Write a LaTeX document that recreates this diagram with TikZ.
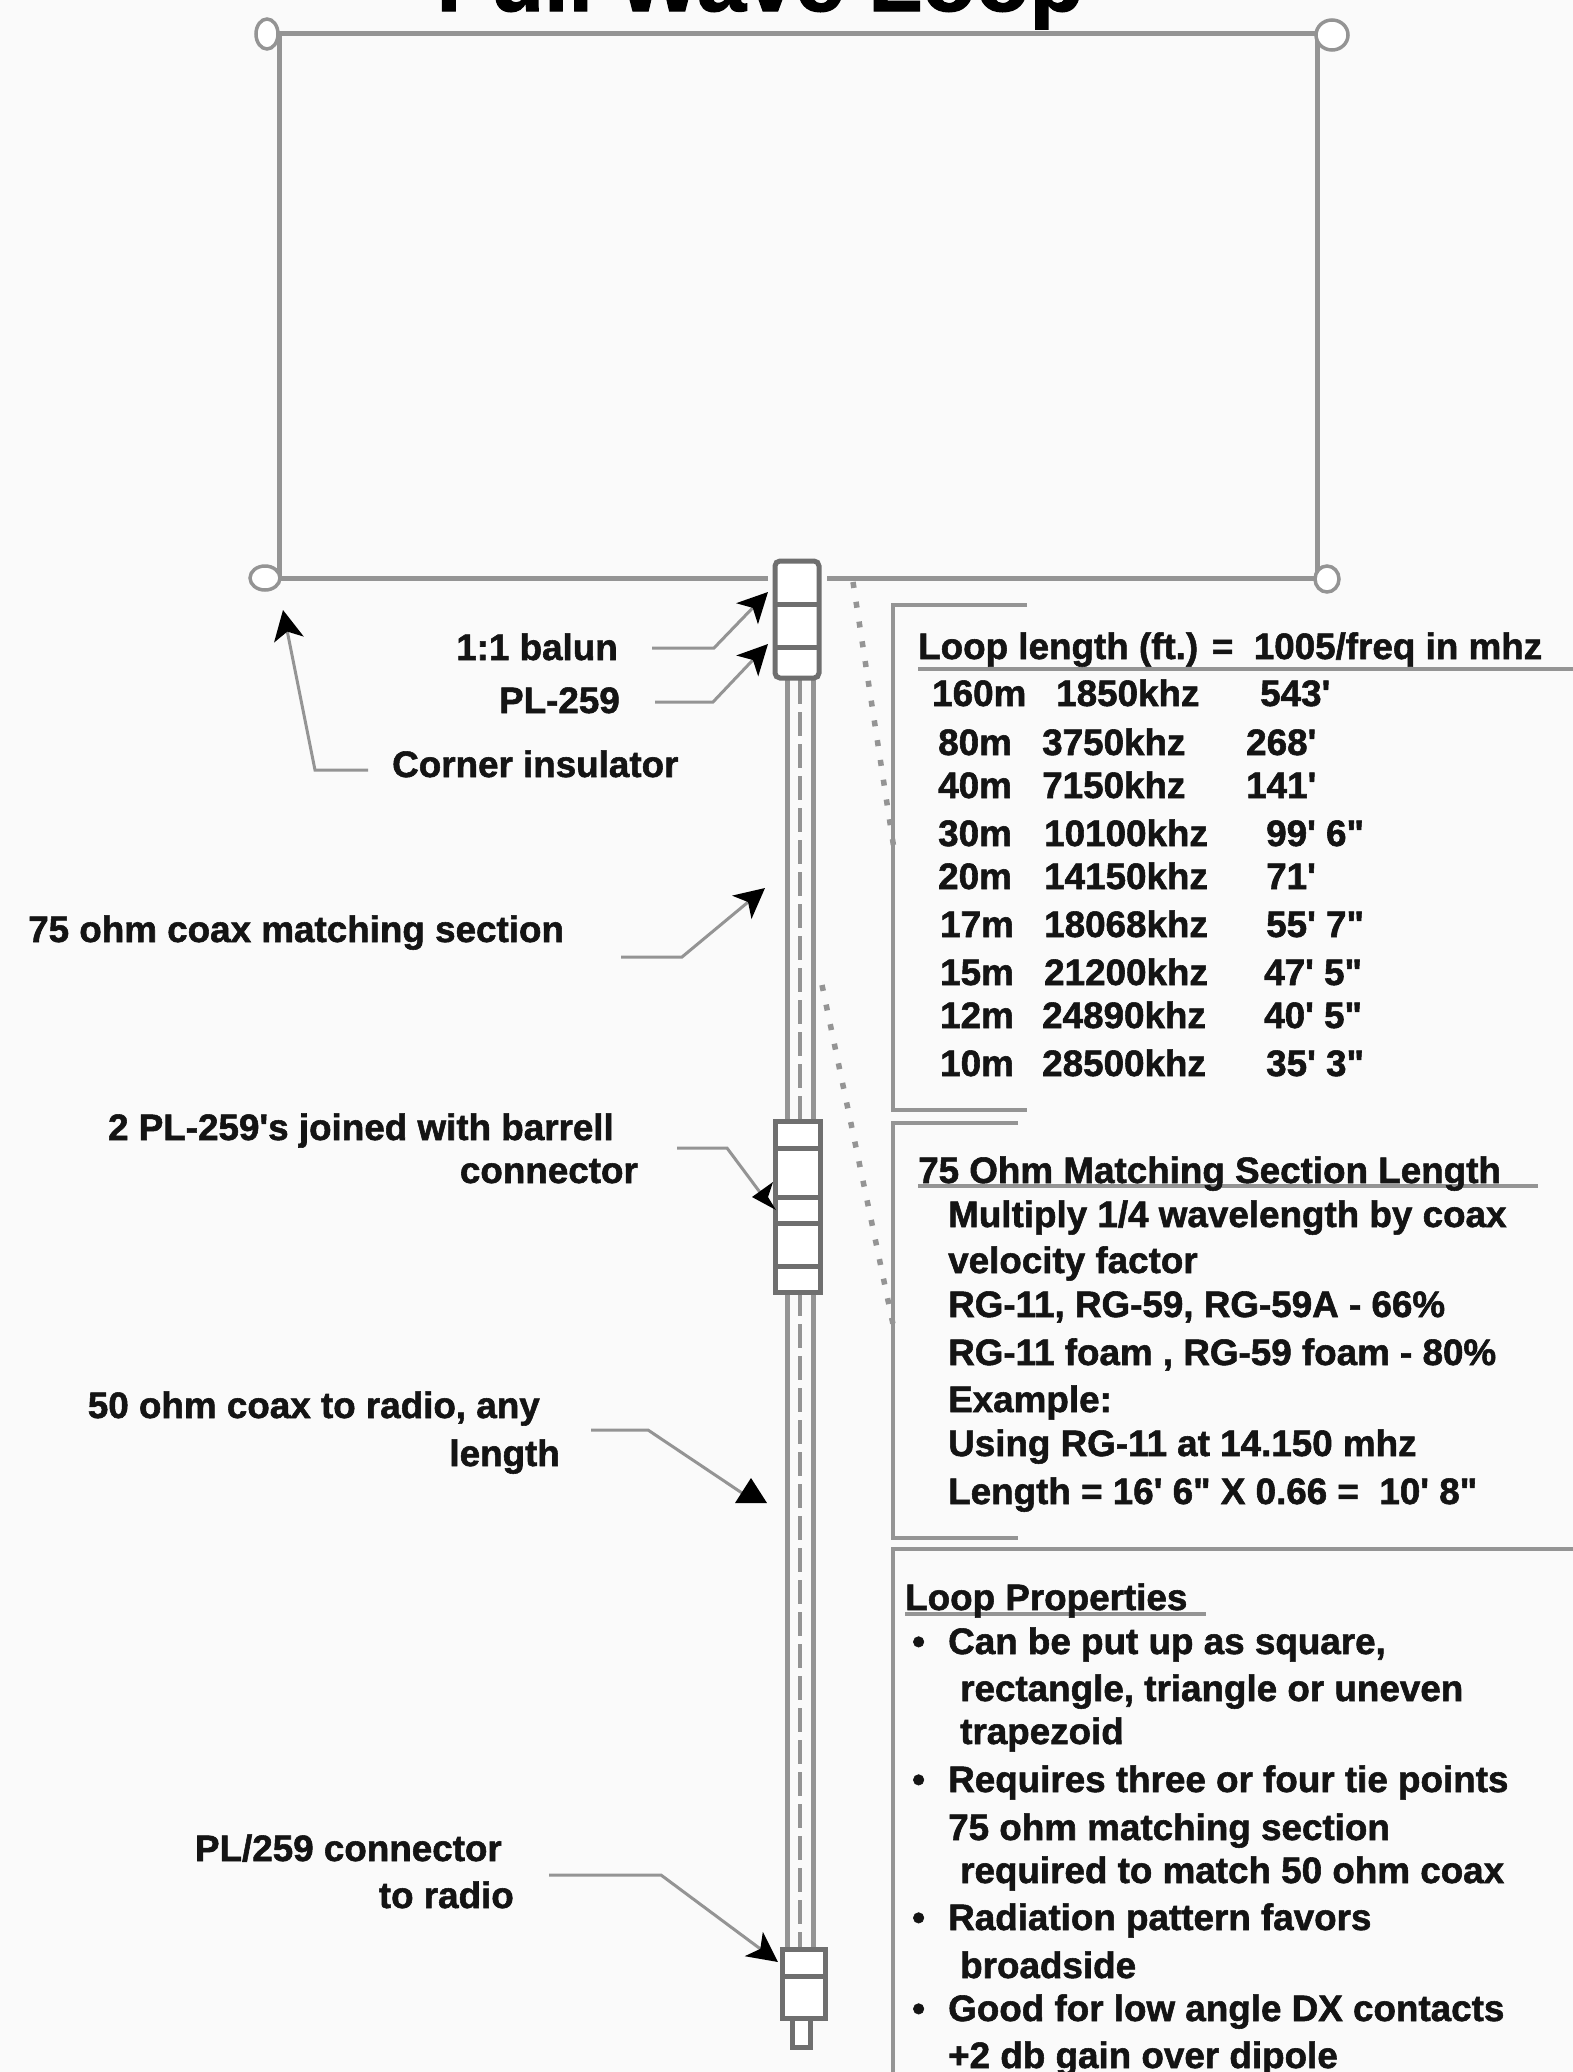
\documentclass[tikz,border=0pt]{standalone}
\usepackage{fontspec}
\setmainfont{Liberation Sans}[Ligatures=TeXOff,BoldFeatures={FakeBold=1.5}]
\usetikzlibrary{arrows.meta,shapes.geometric}
\definecolor{wire}{gray}{0.58}
\definecolor{ink}{gray}{0.08}
\tikzset{
  x=1pt,y=-1pt,
  wirel/.style={draw=wire,line width=5pt},
  thinl/.style={draw=wire,line width=4pt},
  bandl/.style={draw=wire!75!black,line width=5pt},
  lead/.style={draw=wire,line width=3pt,-{Stealth[length=30pt,width=30pt,inset=8pt,color=black]}},
  leadp/.style={draw=wire,line width=3pt},
  head/.style={fill=black},
  insul/.style={draw=wire,line width=3.5pt,fill=white,ellipse,minimum width=#1,minimum height=30pt,inner sep=0pt},
  dots/.style={draw=wire,line width=5.5pt,dash pattern=on 6pt off 14pt},
  lbl/.style={font=\fontsize{36.8}{36.8}\selectfont\bfseries,text=ink,anchor=base west,inner sep=0pt},
  lblr/.style={lbl,anchor=base east},
  ttl/.style={font=\fontsize{88}{88}\selectfont\bfseries,text=black,anchor=base,inner sep=0pt},
}
\begin{document}
\begin{tikzpicture}
\useasboundingbox (0,0) rectangle (1573,2072);
\clip (0,0) rectangle (1573,2072);
\fill[white!98!black] (0,0) rectangle (1573,2072);
\node[ttl] (title) at (760,11) {Full Wave Loop};
% loop
\coordinate (bl) at (279,578); \coordinate (tl) at (279,33); \coordinate (tr) at (1317,33); \coordinate (br) at (1317,578);
\coordinate (wl) at (768,578); \coordinate (wr) at (827,578);
\draw[wirel] (wl) -- (bl) -- (tl) -- (tr) -- (br) -- (wr);
\node[insul=22pt] (i1) at (267,34) {};
\node[insul=32pt] (i2) at (1332,35) {};
\node[insul=30pt,minimum height=24pt] (i3) at (265,578) {};
\node[insul=24pt,minimum height=26pt] (i4) at (1327,579) {};
% coax
\coordinate (c1a) at (787,678); \coordinate (c1b) at (787,1121);
\coordinate (c2a) at (813,678); \coordinate (c2b) at (813,1121);
\coordinate (c3a) at (787,1292); \coordinate (c3b) at (787,1949);
\coordinate (c4a) at (813,1292); \coordinate (c4b) at (813,1949);
\coordinate (m1) at (800,680); \coordinate (m2) at (800,1121);
\coordinate (m3) at (800,1292); \coordinate (m4) at (800,1949);
\draw[wirel] (c1a) -- (c1b) (c2a) -- (c2b) (c3a) -- (c3b) (c4a) -- (c4b);
\draw[draw=wire,line width=4pt,dash pattern=on 24pt off 8pt] (m1) -- (m2) (m3) -- (m4);
% balun
\draw[bandl,fill=white,rounded corners=5pt] (775,561) rectangle (819,678);
\draw[bandl] (775,604) -- (819,604) (775,647) -- (819,647);
% barrel
\draw[bandl,fill=white] (775,1121) rectangle (820,1292);
\draw[bandl] (775,1148) -- (820,1148) (775,1197) -- (820,1197) (775,1223) -- (820,1223) (775,1266) -- (820,1266);
% radio connector
\draw[bandl,fill=white] (792,2018) rectangle (810,2047);
\draw[bandl,fill=white] (782,1949) rectangle (825,2018);
\draw[bandl] (782,1976) -- (825,1976);
% panels
\draw[thinl] (1027,605) -- (893,605) -- (893,1110) -- (1027,1110);
\draw[thinl] (1018,1123) -- (893,1123) -- (893,1538) -- (1018,1538);
\draw[thinl] (1573,1549) -- (893,1549) -- (893,2072);
\draw[thinl] (918,669) -- (1573,669);
\draw[thinl] (918,1186) -- (1538,1186);
\draw[thinl] (905,1614) -- (1206,1614);
\draw[dots] (853,582) -- (894,849);
\draw[dots] (822,985) -- (894,1329);
% leaders
\draw[lead] (652,648) -- (714,648) -- (768,592);
\draw[lead] (655,702) -- (713,702) -- (768,644);
\draw[lead] (368,770) -- (315,770) -- (283,610);
\draw[lead] (621,957) -- (682,957) -- (765,888);
\draw[lead] (549,1875) -- (661,1875) -- (778,1962);
\draw[leadp] (677,1148) -- (727,1148) -- (762,1195);
\fill[head] (752,1197) -- (773,1182) -- (768,1197) -- (776,1210) -- cycle;
\draw[leadp] (591,1430) -- (648,1430) -- (745,1495);
\fill[head] (751,1478) -- (767,1503) -- (735,1503) -- cycle;
% left labels
\node[lblr] (a1) at (618,660) {1:1 balun};
\node[lblr] (a2) at (620,713) {PL-259};
\node[lbl] (a3) at (392,777) {Corner insulator};
\node[lbl] (a4) at (28,942) {75 ohm coax matching section};
\node[lblr] (a5) at (614,1140) {2 PL-259's joined with barrell};
\node[lblr] (a6) at (638,1183) {connector};
\node[lblr] (a7) at (540,1418) {50 ohm coax to radio, any};
\node[lblr] (a8) at (560,1466) {length};
\node[lblr] (a9) at (502,1861) {PL/259 connector};
\node[lblr] (a10) at (514,1908) {to radio};
% table
\node[lbl] (t0) at (918,659) {Loop length (ft.) =\ \ 1005/freq in mhz};
\foreach \n/\ya/\xa/\b/\xb/\c/\xc in {
 160m/706/932/1850khz/1056/543'/1260,
 80m/755/938/3750khz/1042/268'/1246,
 40m/798/938/7150khz/1042/141'/1246,
 30m/846/938/10100khz/1044/99' 6"/1266,
 20m/889/938/14150khz/1044/71'/1266,
 17m/937/940/18068khz/1044/55' 7"/1266,
 15m/985/940/21200khz/1044/47' 5"/1264,
 12m/1028/940/24890khz/1042/40' 5"/1264,
 10m/1076/940/28500khz/1042/35' 3"/1266}{
  \node[lbl] (r\n) at (\xa,\ya) {\n};
  \node[lbl] (f\n) at (\xb,\ya) {\b};
  \node[lbl] (l\n) at (\xc,\ya) {\c};
}
% matching
\node[lbl] (h2) at (918,1183) {75 Ohm Matching Section Length};
\node[lbl] (m1t) at (948,1227) {Multiply 1/4 wavelength by coax};
\node[lbl] (m2t) at (948,1273) {velocity factor};
\node[lbl] (m3t) at (948,1317) {RG-11, RG-59, RG-59A - 66\%};
\node[lbl] (m4t) at (948,1365) {RG-11 foam , RG-59 foam - 80\%};
\node[lbl] (m5t) at (948,1412) {Example:};
\node[lbl] (m6t) at (948,1456) {Using RG-11 at 14.150 mhz};
\node[lbl] (m7t) at (948,1504) {Length = 16' 6" X 0.66 =\ \ 10' 8"};
% properties
\node[lbl] (h3) at (905,1610) {Loop Properties};
\node[lbl] (p1) at (912,1654) {•};
\node[lbl] (p1t) at (948,1654) {Can be put up as square,};
\node[lbl] (p2t) at (960,1701) {rectangle, triangle or uneven};
\node[lbl] (p3t) at (960,1744) {trapezoid};
\node[lbl] (p4) at (912,1792) {•};
\node[lbl] (p4t) at (948,1792) {Requires three or four tie points};
\node[lbl] (p5t) at (948,1840) {75 ohm matching section};
\node[lbl] (p6t) at (960,1883) {required to match 50 ohm coax};
\node[lbl] (p7) at (912,1930) {•};
\node[lbl] (p7t) at (948,1930) {Radiation pattern favors};
\node[lbl] (p8t) at (960,1978) {broadside};
\node[lbl] (p9) at (912,2021) {•};
\node[lbl] (p9t) at (948,2021) {Good for low angle DX contacts};
\node[lbl] (p10t) at (948,2068) {+2 db gain over dipole};
\end{tikzpicture}
\end{document}
